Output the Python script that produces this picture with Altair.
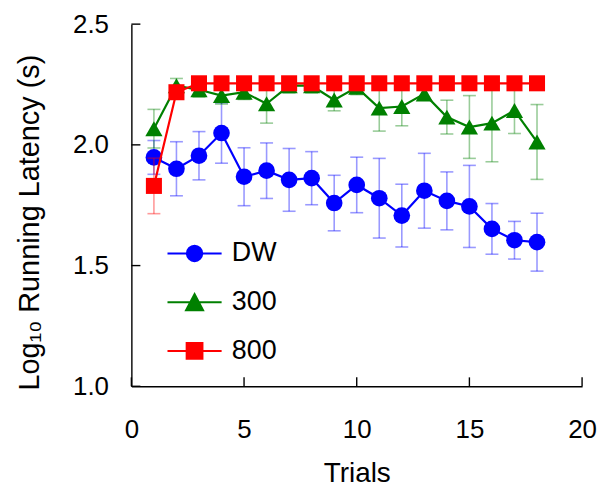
import altair as alt
import pandas as pd

# ---- data ----
trials = [1, 2, 3, 4, 5, 6, 7, 8, 9, 10, 11, 12, 13, 14, 15, 16, 17, 18]

dw = [1.948, 1.901, 1.955, 2.049, 1.868, 1.893, 1.855, 1.862, 1.759,
      1.834, 1.779, 1.707, 1.810, 1.768, 1.745, 1.652, 1.605, 1.597]
dw_err = [0.070, 0.112, 0.100, 0.125, 0.120, 0.115, 0.130, 0.110, 0.115,
          0.115, 0.165, 0.130, 0.155, 0.120, 0.170, 0.105, 0.078, 0.120]

g300 = [2.067, 2.245, 2.228, 2.204, 2.218, 2.170, 2.245, 2.245, 2.186,
        2.238, 2.152, 2.159, 2.211, 2.115, 2.074, 2.090, 2.142, 2.012]
g300_err = [0.080, 0.030, 0.030, 0.035, 0.030, 0.080, 0.030, 0.030, 0.045,
            0.030, 0.095, 0.080, 0.025, 0.070, 0.130, 0.160, 0.095, 0.155]

r800 = [1.830, 2.218, 2.255, 2.255, 2.255, 2.255, 2.255, 2.255, 2.255,
        2.255, 2.255, 2.255, 2.255, 2.255, 2.255, 2.255, 2.255, 2.255]
r800_err = [0.115, 0.020, 0.0, 0.0, 0.0, 0.0, 0.0, 0.0, 0.0,
            0.0, 0.0, 0.0, 0.0, 0.0, 0.0, 0.0, 0.0, 0.0]

series_names = ["DW", "300", "800"]
series_colors = ["#0000FF", "#008000", "#FF0000"]
series_shapes = ["circle", "triangle-up", "square"]
series_sizes = [280, 300, 260]

x_ticks = [0, 5, 10, 15, 20]
y_ticks = [1.0, 1.5, 2.0, 2.5]

# legend symbols: marker with a line through it
legend_paths = [
    "M-3.4,0H3.4M0.95,0A0.95,0.95,0,1,1,-0.95,0A0.95,0.95,0,1,1,0.95,0Z",
    "M-3.4,0H3.4M0,-1L1.05,1L-1.05,1Z",
    "M-3.4,0H3.4M-0.98,-0.98H0.98V0.98H-0.98Z",
]

FONT = "Liberation Sans"

x_scale = alt.Scale(domain=[0, 20], nice=False)
y_scale = alt.Scale(domain=[1.0, 2.5], nice=False)

x_axis = alt.Axis(values=x_ticks, title="Trials", ticks=False, grid=False,
                  labelFontSize=26, labelFont=FONT, labelColor="black",
                  labelPadding=30, labelBaseline="top", labelFlush=False,
                  titleFontSize=28, titleFont=FONT, titleFontWeight="normal",
                  titleColor="black", titleBaseline="alphabetic", titleY=96,
                  domainColor="black", domainWidth=1.4)
y_axis = alt.Axis(values=y_ticks, format=".1f", title="Log₁₀ Running Latency (s)",
                  ticks=False, grid=False,
                  labelFontSize=26, labelFont=FONT, labelColor="black",
                  labelPadding=23, labelFlush=False,
                  titleFontSize=29, titleFont=FONT, titleFontWeight="normal",
                  titleColor="black", titleBaseline="alphabetic",
                  titleX=-93, titleY=199, titleAngle=270,
                  domainColor="black", domainWidth=1.4)


def X(field):
    return alt.X(f"{field}:Q", scale=x_scale, axis=x_axis)


def Y(field):
    return alt.Y(f"{field}:Q", scale=y_scale, axis=y_axis)


layers = []
frames = []
for name, vals, errs, color, shape, size in zip(
        series_names, [dw, g300, r800], [dw_err, g300_err, r800_err],
        series_colors, series_shapes, series_sizes):
    df = pd.DataFrame({
        "trial": trials,
        "value": vals,
        "lo": [v - e for v, e in zip(vals, errs)],
        "hi": [v + e for v, e in zip(vals, errs)],
        "series": name,
    })
    frames.append(df)
    base = alt.Chart(df)
    layers.append(base.mark_rule(color=color, opacity=0.4, strokeWidth=1.6)
                  .encode(x=X("trial"), y=Y("lo"), y2="hi"))
    layers.append(base.mark_tick(orient="horizontal", color=color, opacity=0.4,
                                 size=13, thickness=1.6)
                  .encode(x=X("trial"), y=Y("lo")))
    layers.append(base.mark_tick(orient="horizontal", color=color, opacity=0.4,
                                 size=13, thickness=1.6)
                  .encode(x=X("trial"), y=Y("hi")))
    layers.append(base.mark_line(color=color, strokeWidth=2.2)
                  .encode(x=X("trial"), y=Y("value")))
    layers.append(base.mark_point(shape=shape, filled=True, size=size,
                                  color=color, opacity=1)
                  .encode(x=X("trial"), y=Y("value")))

all_df = pd.concat(frames, ignore_index=True)

# inward axis ticks
xt_df = pd.DataFrame({"trial": x_ticks})
yt_df = pd.DataFrame({"value": y_ticks})
layers.append(alt.Chart(xt_df).mark_rule(color="black", strokeWidth=1.4).encode(
    x=X("trial"),
    y=alt.YDatum(1.0, scale=y_scale, axis=y_axis),
    y2=alt.Y2Datum(1.037)))
layers.append(alt.Chart(yt_df).mark_rule(color="black", strokeWidth=1.4).encode(
    y=Y("value"),
    x=alt.XDatum(0, scale=x_scale, axis=x_axis),
    x2=alt.X2Datum(0.4)))

legend = alt.Legend(title=None, orient="none", legendX=50, legendY=217,
                    symbolSize=256, symbolStrokeWidth=2.2, symbolOpacity=1,
                    labelFontSize=27, labelFont=FONT, labelColor="black",
                    labelOffset=24, rowPadding=21, padding=0, labelLimit=0)

layers.append(alt.Chart(all_df).mark_point(filled=True, opacity=0, size=256)
              .encode(
                  x=X("trial"), y=Y("value"),
                  fill=alt.Fill("series:N", scale=alt.Scale(domain=series_names, range=series_colors), legend=legend),
                  stroke=alt.Stroke("series:N", scale=alt.Scale(domain=series_names, range=series_colors), legend=legend),
                  shape=alt.Shape("series:N", scale=alt.Scale(domain=series_names, range=legend_paths), legend=legend),
              ))

chart = alt.layer(*layers).properties(
    width=453, height=364,
    autosize=alt.AutoSizeParams(type="none"),
    padding={"left": 124, "top": 15, "right": 16, "bottom": 102},
    background="white",
).configure_view(stroke=None)

chart.save("out.html", embed_options={"renderer": "svg", "actions": False})
